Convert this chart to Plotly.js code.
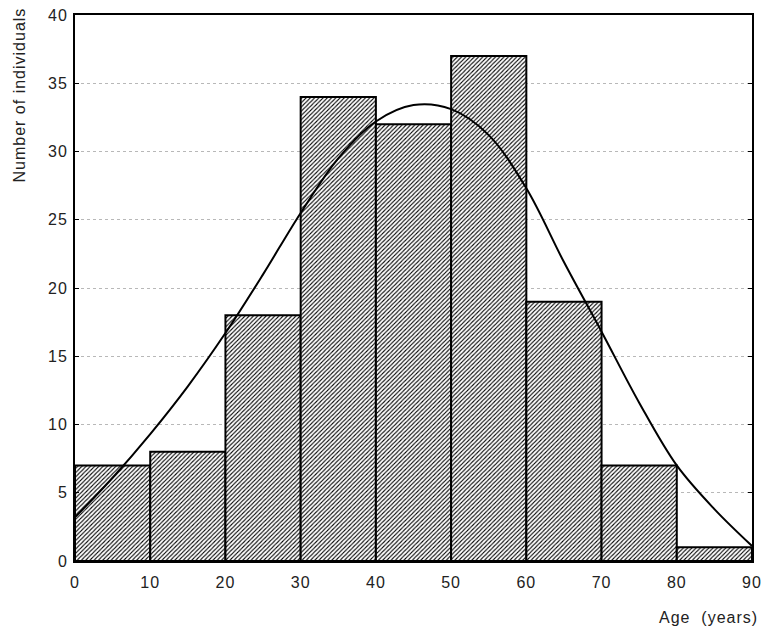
<!DOCTYPE html>
<html>
<head>
<meta charset="utf-8">
<script src="https://cdn.plot.ly/plotly-3.0.1.min.js"></script>
<style>
html,body{margin:0;padding:0;background:#fff;}
#chart{width:764px;height:632px;}
#chart .xtick text, #chart .ytick text, #chart .annotation-text{letter-spacing:1px;}
</style>
</head>
<body>
<div id="chart"></div>
<script>
// Histogram bins (age, years) and counts
const binStarts = [0, 10, 20, 30, 40, 50, 60, 70, 80];
const binWidth = 10;
const counts = [7, 8, 18, 34, 32, 37, 19, 7, 1];

// Fitted normal curve
const curveX = [0, 5, 10, 15, 20, 25, 30, 35, 40, 45, 50, 55, 60, 65, 70, 75, 80, 85, 90];
const curveY = [3.2, 6.1, 9.3, 12.8, 16.7, 21.0, 25.5, 29.5, 32.2, 33.4, 33.1, 31.2, 27.3, 21.9, 16.8, 11.6, 7.0, 3.8, 1.1];

const xTicks = [0, 10, 20, 30, 40, 50, 60, 70, 80, 90];
const yTicks = [0, 5, 10, 15, 20, 25, 30, 35, 40];

const font = {family: 'Liberation Sans, Arial, sans-serif', size: 16, color: '#222'};

const traces = [
  {
    type: 'bar',
    x: binStarts,
    y: counts,
    width: binStarts.map(() => binWidth),
    offset: 0,
    marker: {
      color: '#fff',
      line: {color: '#000', width: 2},
      pattern: {shape: '/', size: 3, solidity: 0.35, fgcolor: '#000', bgcolor: '#fff'}
    },
    hoverinfo: 'skip'
  },
  {
    type: 'scatter',
    mode: 'lines',
    x: curveX,
    y: curveY,
    line: {color: '#000', width: 2, shape: 'spline', smoothing: 1},
    hoverinfo: 'skip'
  }
];

const layout = {
  width: 764, height: 632,
  margin: {l: 75, r: 12, t: 15, b: 71},
  paper_bgcolor: '#fff', plot_bgcolor: '#fff',
  showlegend: false,
  bargap: 0,
  font: font,
  xaxis: {
    range: [0, 90],
    tickvals: xTicks,
    ticktext: xTicks.map(String),
    showgrid: false,
    zeroline: false,
    showline: true, linecolor: '#000', linewidth: 2, mirror: true,
    ticks: '', ticklabelstandoff: 6,
    tickfont: font
  },
  yaxis: {
    range: [0, 40],
    tickvals: yTicks,
    ticktext: yTicks.map(String),
    showgrid: true, gridcolor: '#b8b8b8', griddash: 'dot', gridwidth: 1,
    zeroline: false,
    showline: true, linecolor: '#000', linewidth: 2, mirror: 'ticks',
    ticks: 'inside', ticklen: 4, tickcolor: '#000', tickwidth: 1,
    ticklabelstandoff: 2,
    tickfont: font
  },
  annotations: [
    {
      text: 'Number of individuals', xref: 'paper', yref: 'paper',
      x: 0, y: 1, xanchor: 'center', yanchor: 'middle',
      xshift: -56, yshift: -80,
      textangle: -90, showarrow: false,
      font: font
    },
    {
      text: 'Age&nbsp;&nbsp;(years)', xref: 'paper', yref: 'paper',
      x: 1, y: 0, xanchor: 'right', yanchor: 'middle',
      yshift: -56, xshift: 2,
      showarrow: false,
      font: font
    }
  ]
};

Plotly.newPlot('chart', traces, layout, {displayModeBar: false, staticPlot: true});
</script>
</body>
</html>
